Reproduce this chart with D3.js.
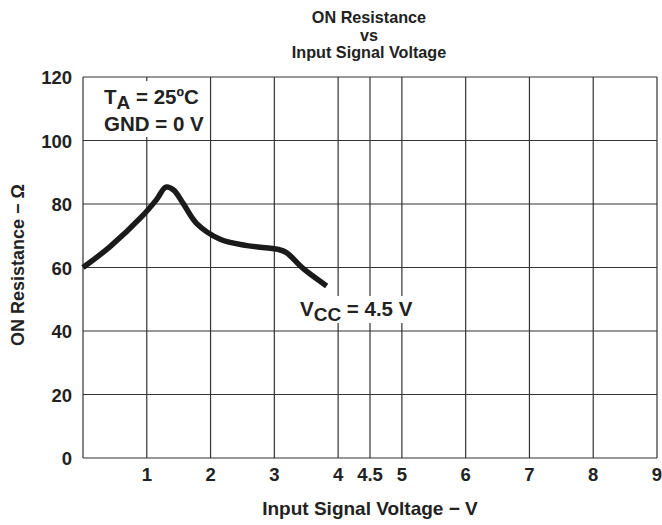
<!DOCTYPE html>
<html>
<head>
<meta charset="utf-8">
<script src="https://cdn.jsdelivr.net/npm/d3@7"></script>
<style>
body{margin:0;background:#fff;}
text{font-family:"Liberation Sans",Arial,sans-serif;font-weight:bold;fill:#222;}
</style>
</head>
<body>
<div id="chart"></div>
<script>
(function(){
var width = 662,
	height = 525,
	margin = {top:77,bottom:67,left:83,right:5};

// curve
var voltage = [0, 0.42, 0.92, 1.15, 1.30, 1.42, 1.57, 1.78, 2.15, 2.57, 3.06, 3.19, 3.45, 3.82];
var resistance = [60, 66.5, 76, 81.3, 85.3, 84.4, 80.2, 73.9, 68.9, 66.9, 65.7, 64.7, 59.7, 54.2];

var xTicks = [1, 2, 3, 4, 4.5, 5, 6, 7, 8, 9];
var yTicks = [0, 20, 40, 60, 80, 100, 120];
var titleLines = ["ON Resistance", "vs", "Input Signal Voltage"];

var X = d3.scaleLinear().domain([0,9]).range([margin.left, width-margin.right]);
var Y = d3.scaleLinear().domain([0,120]).range([height-margin.bottom, margin.top]);

var svg = d3.select("#chart").append("svg")
	.attr("width",width)
	.attr("height",height);

// grid
var grid = svg.append("g").attr("stroke","#333").attr("stroke-width",1.2);
grid.selectAll(".vx").data(xTicks).enter().append("line")
	.attr("x1",function(d){return X(d)}).attr("x2",function(d){return X(d)})
	.attr("y1",Y(0)).attr("y2",Y(120));
grid.selectAll(".hy").data(yTicks).enter().append("line")
	.attr("x1",X(0)).attr("x2",X(9))
	.attr("y1",function(d){return Y(d)}).attr("y2",function(d){return Y(d)});
grid.append("line").attr("x1",X(0)).attr("x2",X(0)).attr("y1",Y(0)).attr("y2",Y(120));

// label boxes knock out the grid
svg.append("rect").attr("x",X(0)+1).attr("y",Y(120)+4).attr("width",125).attr("height",56).attr("fill","#fff");
svg.append("rect").attr("x",295).attr("y",296).attr("width",127).attr("height",27).attr("fill","#fff");

// curve
var line = d3.line()
	.x(function(d){return X(d[0])})
	.y(function(d){return Y(d[1])})
	.curve(d3.curveCatmullRom.alpha(0.5));

svg.append("path")
	.datum(voltage.map(function(v,i){return [v,resistance[i]]}))
	.attr("d",line)
	.attr("fill","none")
	.attr("stroke","#1a1a1a")
	.attr("stroke-width",5.5)
	.attr("stroke-linejoin","round");

// tick labels
svg.selectAll(".xt").data(xTicks).enter().append("text")
	.attr("x",function(d){return X(d)})
	.attr("y",481)
	.attr("text-anchor","middle")
	.attr("font-size",18.5)
	.text(function(d){return d});

svg.selectAll(".yt").data(yTicks).enter().append("text")
	.attr("x",72)
	.attr("y",function(d){return Y(d)+7})
	.attr("text-anchor","end")
	.attr("font-size",18.5)
	.text(function(d){return d});

// titles
svg.selectAll(".title").data(titleLines).enter().append("text")
	.attr("x",369)
	.attr("y",function(d,i){return 23+i*17.5})
	.attr("text-anchor","middle")
	.attr("font-size",16.2)
	.text(function(d){return d});

svg.append("text")
	.attr("x",370).attr("y",515)
	.attr("text-anchor","middle")
	.attr("font-size",19)
	.text("Input Signal Voltage \u2212 V");

svg.append("text")
	.attr("transform","translate(24,"+265+") rotate(-90)")
	.attr("text-anchor","middle")
	.attr("font-size",18)
	.text("ON Resistance \u2212 \u03A9");

// annotations
var ta = svg.append("text").attr("x",104).attr("y",104).attr("font-size",20.5);
ta.append("tspan").text("T");
ta.append("tspan").attr("dy",5).attr("font-size",19).text("A");
ta.append("tspan").attr("dy",-5).text(" = 25\u00BAC");

svg.append("text").attr("x",104).attr("y",131).attr("font-size",20.5).text("GND = 0 V");

var vcc = svg.append("text").attr("x",300).attr("y",316).attr("font-size",20.5);
vcc.append("tspan").text("V");
vcc.append("tspan").attr("dy",5).attr("font-size",19).text("CC");
vcc.append("tspan").attr("dy",-5).text(" = 4.5 V");

})()
</script>
</body>
</html>
